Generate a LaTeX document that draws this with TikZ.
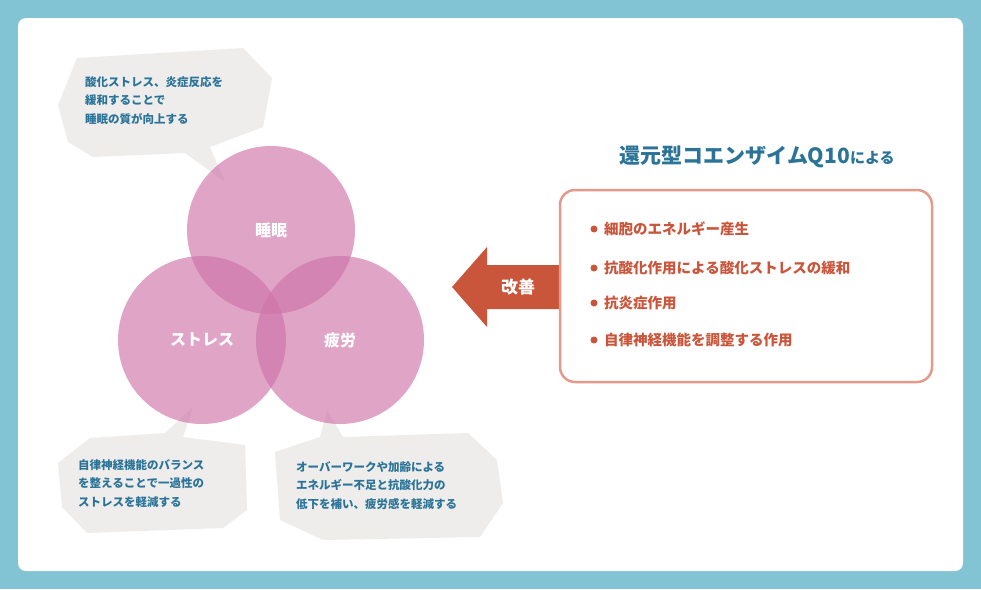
\documentclass[tikz,border=0pt]{standalone}
\usepackage{fontspec}
\setmainfont{Noto Sans CJK JP}
\usetikzlibrary{positioning}
\definecolor{frame}{HTML}{82C4D4}
\definecolor{petal}{HTML}{CF74A8}
\definecolor{bubble}{HTML}{EEEDEC}
\definecolor{ink}{HTML}{2B7497}
\definecolor{brick}{HTML}{C9553B}
\definecolor{rim}{HTML}{E39A8A}
\begin{document}
\begin{tikzpicture}[x=1pt, y=-1pt,
   circ_style/.style={circle, fill=petal, fill opacity=0.65, text opacity=1, minimum size=168pt, inner sep=0pt, text=white, font=\fontsize{16}{16}\selectfont\bfseries},
   bub_style/.style={fill=bubble},
   note_style/.style={anchor=north west, align=left, text=ink, inner sep=0pt, font=\fontsize{11.5}{18.5}\selectfont\bfseries},
   item_style/.style={anchor=west, text=brick, inner sep=0pt, font=\fontsize{14.5}{14.5}\selectfont\bfseries}]
	  \fill [frame] (0,0) rectangle (981,589);
	  \fill [white, rounded corners=8pt] (18,18) rectangle (963,571);

	  % bubbles
	  \fill [bub_style] (58,105) -- (77,58) -- (243,48) -- (272,78) -- (263,127) -- (210,147) -- (225,182) -- (185,153) -- (93,157) -- (68,142) -- cycle;
	  \fill [bub_style] (58,463) -- (90,438) -- (165,433) -- (193,407) -- (183,437) -- (245,445) -- (247,510) -- (223,528) -- (87,533) -- (62,507) -- cycle;
	  \fill [bub_style] (275,452) -- (320,437) -- (327,410) -- (343,437) -- (468,433) -- (497,460) -- (503,503) -- (480,537) -- (323,540) -- (280,520) -- cycle;
	  \node [note_style] (n1) at (85,76) {酸化ストレス、炎症反応を\\緩和することで\\睡眠の質が向上する};
	  \node [note_style] (n2) at (78,459) {自律神経機能のバランス\\を整えることで一過性の\\ストレスを軽減する};
	  \node [note_style] (n3) at (296,461) {オーバーワークや加齢による\\エネルギー不足と抗酸化力の\\低下を補い、疲労感を軽減する};

	  % circles
	  \node [circ_style] (sleep) at (271,230) {};
	  \node [circ_style] (stress) at (202,340) {};
	  \node [circ_style] (fatigue) at (340,340) {};
	  \node [text=white, font=\fontsize{16}{16}\selectfont\bfseries] at (sleep) {睡眠};
	  \node [text=white, font=\fontsize{16}{16}\selectfont\bfseries] at (stress.center) {ストレス};
	  \node [text=white, font=\fontsize{16}{16}\selectfont\bfseries] at (fatigue.center) {疲労};

	  % arrow
	  \fill [brick] (452,287) -- (487,247) -- (487,265) -- (560,265) -- (560,309) -- (487,309) -- (487,327) -- cycle;
	  \node [text=white, font=\fontsize{17}{17}\selectfont\bfseries] (kaizen) at (518,287) {改善};

	  % title and list
	  \node [text=ink, font=\fontsize{21}{21}\selectfont\bfseries] (title) at (757,157) {還元型コエンザイムQ10{\fontsize{15}{15}\selectfont による}};
	  \draw [rim, line width=2.5pt, rounded corners=15pt] (560,190) rectangle (932,382);
	  \foreach \y/\txt in {229/細胞のエネルギー産生, 268/抗酸化作用による酸化ストレスの緩和, 303/抗炎症作用, 340/自律神経機能を調整する作用} {
	    \fill [brick] (594,\y) circle (3.5pt);
	    \node [item_style] at (604,\y) {\txt};
	  }
\end{tikzpicture}
\end{document}
